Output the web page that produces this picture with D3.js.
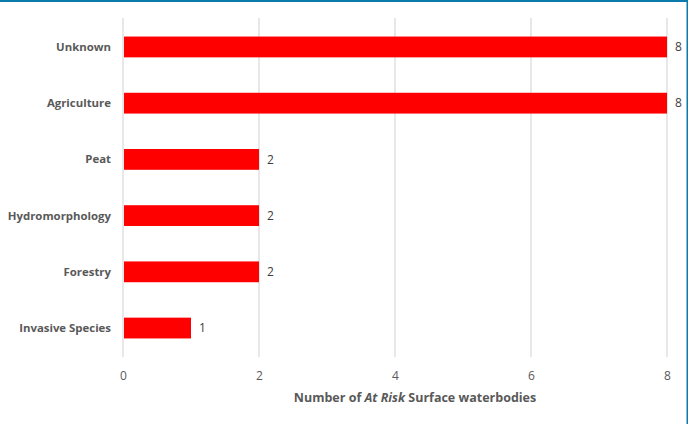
<!DOCTYPE html>
<html>
<head>
<meta charset="utf-8">
<script src="https://cdn.jsdelivr.net/npm/d3@7"></script>
<style>
body { margin: 0; background: #fff; }
svg { display: block; font-family: "Open Sans", sans-serif; }
</style>
</head>
<body>
<svg></svg>
<script>
var categories = ["Unknown", "Agriculture", "Peat", "Hydromorphology", "Forestry", "Invasive Species"];
var values = [8, 8, 2, 2, 2, 1];
var ticks = [0, 2, 4, 6, 8];

var screen = {width: 688, height: 424};
var margins = {left: 123, right: 21, top: 18, bottom: 67};
var graph = {
    width: screen.width - margins.left - margins.right,
    height: screen.height - margins.top - margins.bottom
};

var svg = d3.select("svg")
    .attr("width", screen.width)
    .attr("height", screen.height);

// frame lines
svg.append("rect").attr("x", 0).attr("y", 0).attr("width", screen.width).attr("height", 2).attr("fill", "#0b7bab");
svg.append("rect").attr("x", screen.width - 1.5).attr("y", 0).attr("width", 1.5).attr("height", screen.height).attr("fill", "#0b7bab");

var target = svg.append("g")
    .attr("transform", "translate(" + margins.left + "," + margins.top + ")");

var xScale = d3.scaleLinear().domain([0, 8]).range([0, graph.width]);
var yScale = d3.scaleBand().domain(categories).range([0, graph.height]).paddingInner(0.63).paddingOuter(0.33);

// gridlines
target.selectAll(".grid")
    .data(ticks)
    .enter()
    .append("line")
    .attr("x1", function(d) { return xScale(d); })
    .attr("x2", function(d) { return xScale(d); })
    .attr("y1", 0)
    .attr("y2", graph.height)
    .attr("stroke", "#d9d9d9")
    .attr("stroke-width", 1.2);

// bars
target.selectAll(".bar")
    .data(values)
    .enter()
    .append("rect")
    .attr("x", xScale(0) + 1)
    .attr("y", function(d, i) { return yScale(categories[i]); })
    .attr("width", function(d) { return xScale(d) - xScale(0) - 1; })
    .attr("height", yScale.bandwidth())
    .attr("fill", "#ff0000");

// value labels
target.selectAll(".val")
    .data(values)
    .enter()
    .append("text")
    .attr("x", function(d) { return xScale(d) + 8; })
    .attr("y", function(d, i) { return yScale(categories[i]) + yScale.bandwidth() / 2; })
    .attr("dy", "0.35em")
    .attr("font-size", 12)
    .attr("fill", "#404040")
    .text(function(d) { return d; });

// category labels
target.selectAll(".cat")
    .data(categories)
    .enter()
    .append("text")
    .attr("x", -12)
    .attr("y", function(d) { return yScale(d) + yScale.bandwidth() / 2; })
    .attr("dy", "0.35em")
    .attr("text-anchor", "end")
    .attr("font-size", 11.4)
    .attr("font-weight", "bold")
    .attr("fill", "#595959")
    .text(function(d) { return d; });

// x axis tick labels
var xAxis = d3.axisBottom(xScale).tickValues(ticks).tickSize(0).tickPadding(14);
var axisG = target.append("g")
    .attr("transform", "translate(0," + graph.height + ")")
    .call(xAxis);
axisG.select(".domain").remove();
axisG.selectAll("text")
    .attr("font-family", "Open Sans, sans-serif")
    .attr("font-size", 12)
    .attr("fill", "#595959");

// axis title
var title = svg.append("text")
    .attr("x", 415)
    .attr("y", 402)
    .attr("text-anchor", "middle")
    .attr("font-size", 12.5)
    .attr("font-weight", "bold")
    .attr("fill", "#595959");
title.append("tspan").text("Number of ");
title.append("tspan").attr("font-style", "italic").text("At Risk");
title.append("tspan").text(" Surface waterbodies");
</script>
</body>
</html>
